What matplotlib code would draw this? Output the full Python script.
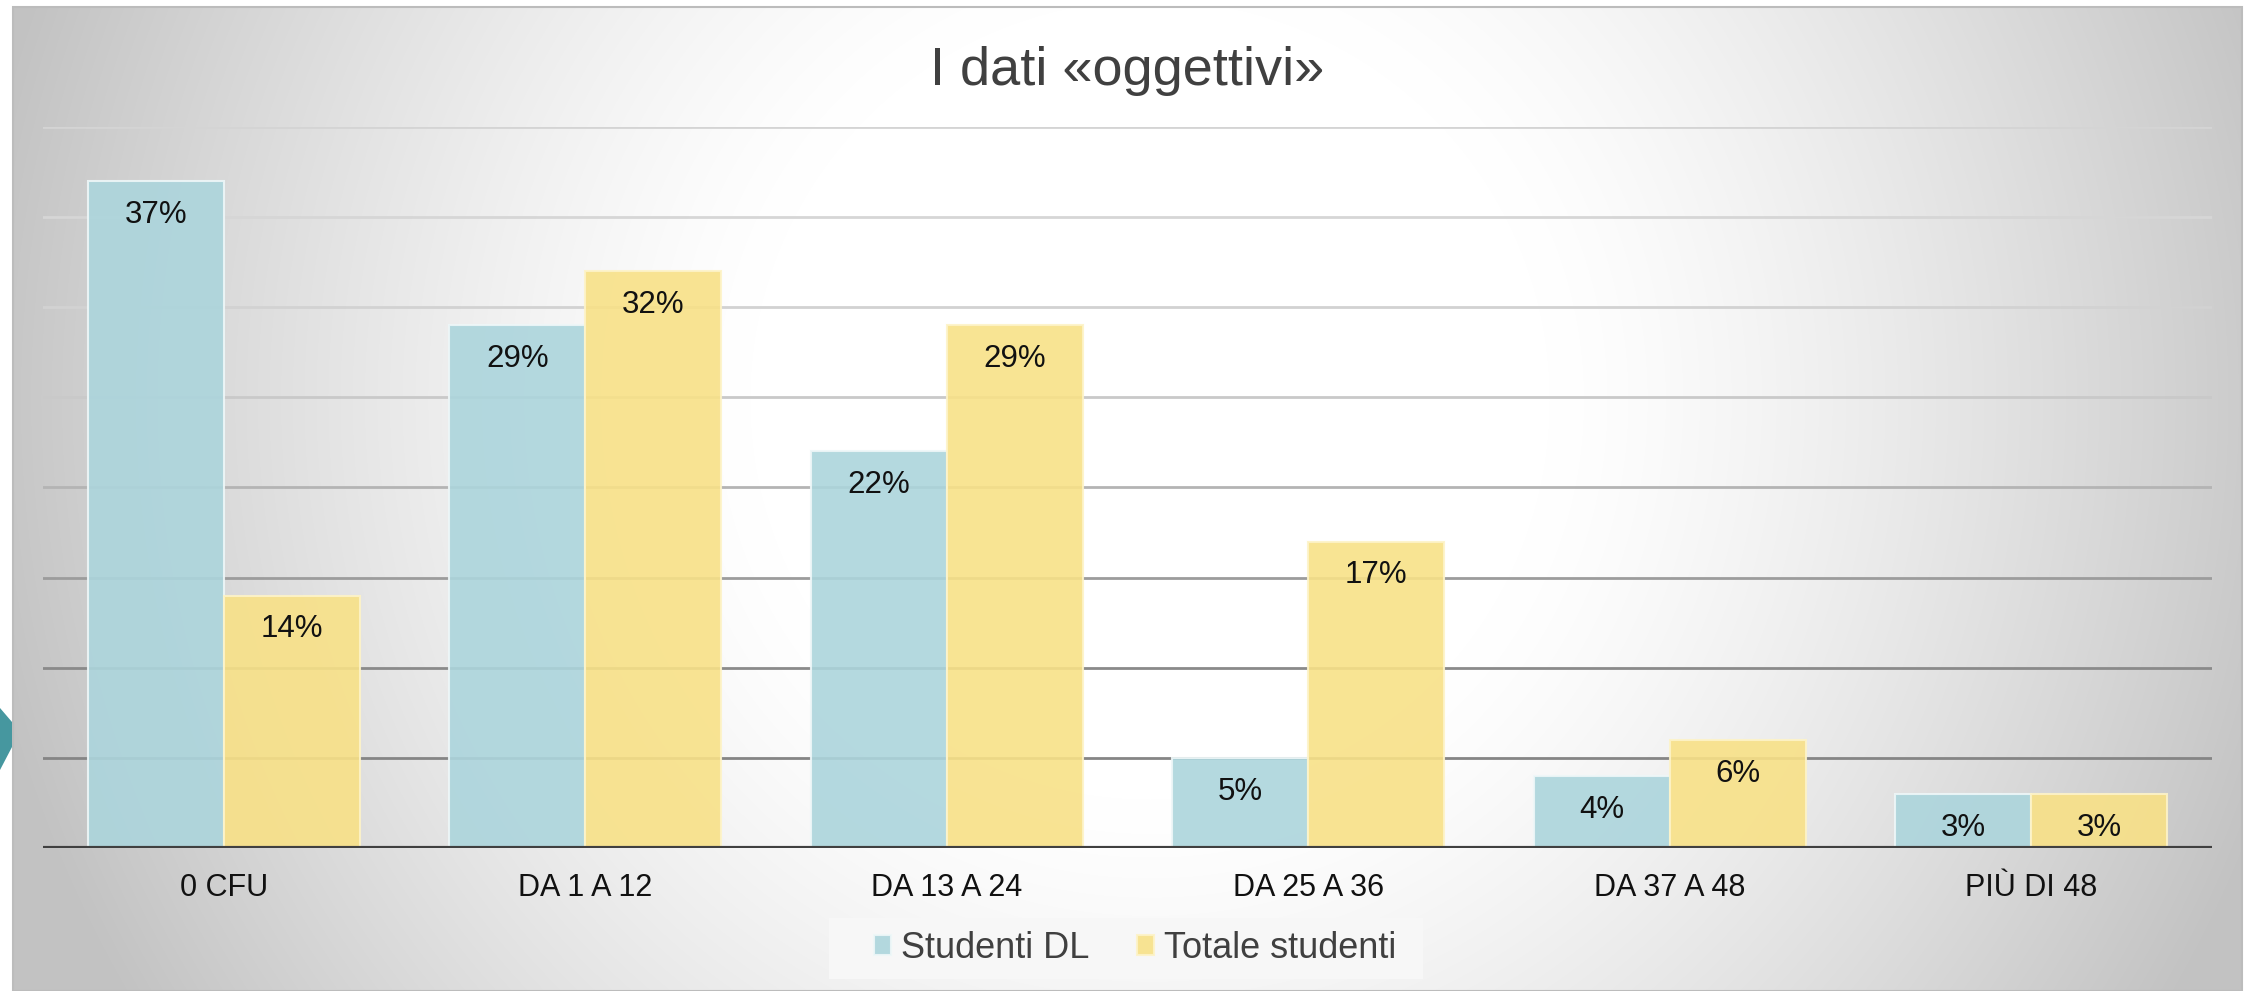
import numpy as np
import matplotlib
matplotlib.use('Agg')
import matplotlib.pyplot as plt
from matplotlib.patches import Rectangle, Polygon

categorie = ['0 CFU', 'DA 1 A 12', 'DA 13 A 24', 'DA 25 A 36', 'DA 37 A 48', 'PIÙ DI 48']
studenti_dl = [37, 29, 22, 5, 4, 3]
totale_studenti = [14, 32, 29, 17, 6, 3]
serie = ['Studenti DL', 'Totale studenti']

W, H = 2249, 991
fig = plt.figure(figsize=(W / 100, H / 100), dpi=100)
fig.patch.set_facecolor('white')

# sfondo grigio con sfumatura radiale (bianco al centro)
x0, x1, y0, y1 = 13, 2242, 7, 991
xx, yy = np.meshgrid(np.arange(x0, x1), np.arange(y0, y1))
r = np.hypot(xx - 1150, yy - 400)
t = np.clip((r - 400) / 780, 0, 1) ** 1.3
v = (255 - 60 * t) / 255
img = np.dstack([v, v, v])
bg = fig.add_axes([x0 / W, 0, (x1 - x0) / W, (y1 - y0) / H])
bg.imshow(img, aspect='auto', interpolation='bilinear')
bg.set_axis_off()
fig.patches.append(Rectangle((x0 / W, 0), (x1 - x0) / W, (y1 - y0) / H, transform=fig.transFigure,
                             fill=False, edgecolor='#bcbcbc', lw=1.5, zorder=1))
# freccia teal sul bordo sinistro
fig.patches.append(Polygon([(0, 1 - 708 / H), (12 / W, 1 - 722 / H), (12 / W, 1 - 747 / H), (0, 1 - 770 / H)],
                           closed=True, transform=fig.transFigure, facecolor='#46979f', edgecolor='none', zorder=2))

ax = fig.add_axes([43 / W, 1 - 848 / H, (2212 - 43) / W, (848 - 127) / H])
ax.set_facecolor('none')
ax.set_xlim(-0.5, 5.5)
ax.set_ylim(0, 40)

# griglia (più scura in basso, come nell'originale)
grid_colors = {5: '#858585', 10: '#8a8a8a', 15: '#9c9c9c', 20: '#b4b4b4', 25: '#c9c9c9',
               30: '#d2d2d2', 35: '#d6d6d6', 40: '#d4d4d4'}
for yv, c in grid_colors.items():
    ax.axhline(yv, color=c, lw=2, zorder=0)

x = np.arange(len(categorie))
w = 0.376
b1 = ax.bar(x - w / 2, studenti_dl, w, color='#acd5dc', alpha=0.9, edgecolor='#eef7f8', lw=1.5, zorder=2, label=serie[0])
b2 = ax.bar(x + w / 2, totale_studenti, w, color='#f8e187', alpha=0.9, edgecolor='#fdf3c8', lw=1.5, zorder=2, label=serie[1])

for bars, vals in [(b1, studenti_dl), (b2, totale_studenti)]:
    for b, val in zip(bars, vals):
        ax.annotate('%d%%' % val, (b.get_x() + b.get_width() / 2, val), xytext=(0, -30),
                    textcoords='offset points', ha='center', va='baseline',
                    fontsize=22.5, color='#111111', family='Liberation Sans', zorder=3)

ax.axhline(0, color='#404040', lw=3, zorder=4)
for s in ax.spines.values():
    s.set_visible(False)
ax.set_yticks([])
ax.set_xticks(x)
ax.set_xticklabels(categorie, fontsize=22, color='#111111', family='Liberation Sans')
ax.tick_params(axis='x', length=0, pad=18)

fig.text(1127 / W, 1 - 85 / H, 'I dati «oggettivi»', ha='center', va='baseline', fontsize=39,
         color='#404040', family='Liberation Sans')

# legenda
fig.patches.append(Rectangle((829 / W, 1 - 979 / H), (1423 - 829) / W, 61 / H, transform=fig.transFigure,
                             facecolor='#f7f7f7', edgecolor='none', zorder=1))
leg = fig.legend(handles=[b1, b2], labels=serie, loc='center', bbox_to_anchor=(1135 / W, 1 - 948 / H),
                 ncol=2, frameon=False, prop={'family': 'Liberation Sans', 'size': 26},
                 handlelength=0.47, handleheight=0.47, handletextpad=0.28, columnspacing=1.3)
for t_ in leg.get_texts():
    t_.set_color('#404040')

fig.savefig('out.png', dpi=100)
